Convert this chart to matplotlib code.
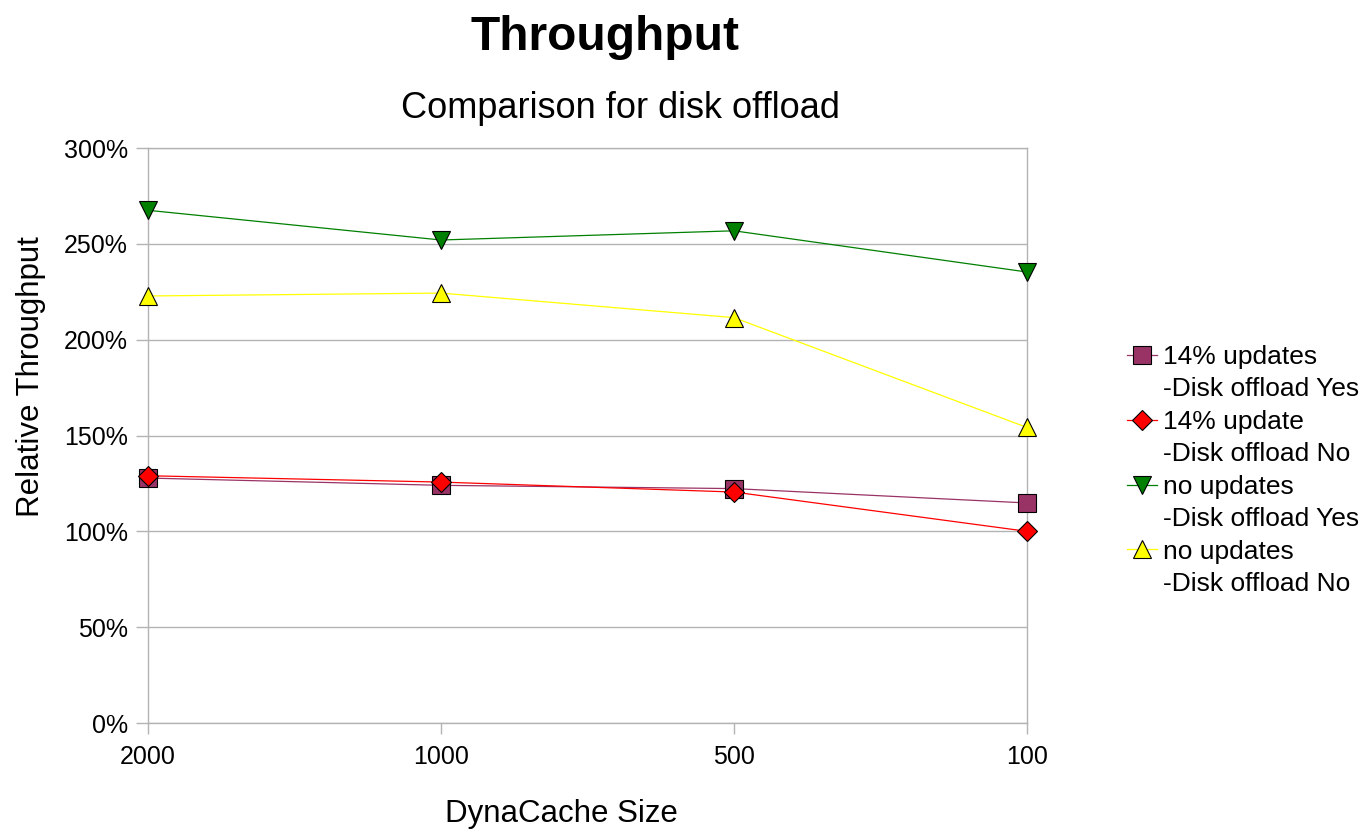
import matplotlib
matplotlib.use("Agg")
import matplotlib.pyplot as plt
from matplotlib.lines import Line2D
from matplotlib.ticker import FuncFormatter

plt.rcParams['font.family'] = ['Liberation Sans', 'DejaVu Sans']

categories = ["2000", "1000", "500", "100"]
upd14_disk_yes = [127.8, 124.0, 122.3, 114.8]
upd14_disk_no = [129.0, 125.7, 120.5, 100.0]
noupd_disk_yes = [267.5, 252.0, 256.8, 235.3]
noupd_disk_no = [222.8, 224.3, 211.5, 154.2]
labels = [("14% updates", "-Disk offload Yes"),
          ("14% update", "-Disk offload No"),
          ("no updates", "-Disk offload Yes"),
          ("no updates", "-Disk offload No")]
yticks = [0, 50, 100, 150, 200, 250, 300]

W, H = 1365, 830
fig = plt.figure(figsize=(W / 100, H / 100), dpi=100)
ax = fig.add_axes([148 / W, 1 - 723 / H, (1027 - 148) / W, (723 - 148) / H])

x = list(range(len(categories)))
grid_c = '#b3b3b3'

series = [
    (upd14_disk_yes, dict(color='#993366', marker='s', ms=13.5, mfc='#993366')),
    (upd14_disk_no, dict(color='#ff0000', marker='D', ms=9.7, mfc='#ff0000')),
    (noupd_disk_yes, dict(color='#008000', marker='v', ms=13.5, mfc='#008000')),
    (noupd_disk_no, dict(color='#ffff00', marker='^', ms=13.5, mfc='#ffff00')),
]
handles = []
for vals, st in series:
    ln, = ax.plot(x, vals, lw=0.9, mec='black', mew=0.8, clip_on=False, zorder=3, **st)
    handles.append(ln)

ax.set_xlim(0, 3)
ax.set_ylim(0, 300)
ax.set_yticks(yticks)
ax.yaxis.set_major_formatter(FuncFormatter(lambda v, p: f"{int(v)}%"))
ax.set_xticks(x)
ax.set_xticklabels(categories)
ax.grid(axis='y', color=grid_c, lw=1.0)
for s in ax.spines.values():
    s.set_color(grid_c)
    s.set_linewidth(1.0)
ax.tick_params(axis='y', length=8.5, width=1.0, color=grid_c, pad=6, labelsize=18)
ax.tick_params(axis='x', length=8, width=1.0, color=grid_c, pad=8, labelsize=18)

fig.text(605 / W, 1 - 50 / H, "Throughput", ha='center', va='baseline',
         fontsize=34.5, fontweight='bold')
fig.text(620 / W, 1 - 118 / H, "Comparison for disk offload", ha='center', va='baseline',
         fontsize=26)
fig.text(561 / W, 1 - 822 / H, "DynaCache Size", ha='center', va='baseline', fontsize=22.5)
fig.text(31 / W, 1 - 377 / H, "Relative Throughput", ha='center', va='center',
         rotation=90, fontsize=22.5)

leg_handles, leg_labels = [], []
for h, (l1, l2) in zip(handles, labels):
    leg_handles.append(h)
    leg_labels.append(l1)
    leg_handles.append(Line2D([], [], linestyle='none'))
    leg_labels.append(l2)
fig.legend(leg_handles, leg_labels, loc='upper left',
           bbox_to_anchor=(1127 / W, 1 - 345 / H), frameon=False, fontsize=19,
           borderpad=0, borderaxespad=0, handlelength=1.15, handletextpad=0.22,
           labelspacing=0.32)

fig.savefig("out.png", dpi=100, facecolor='white')
